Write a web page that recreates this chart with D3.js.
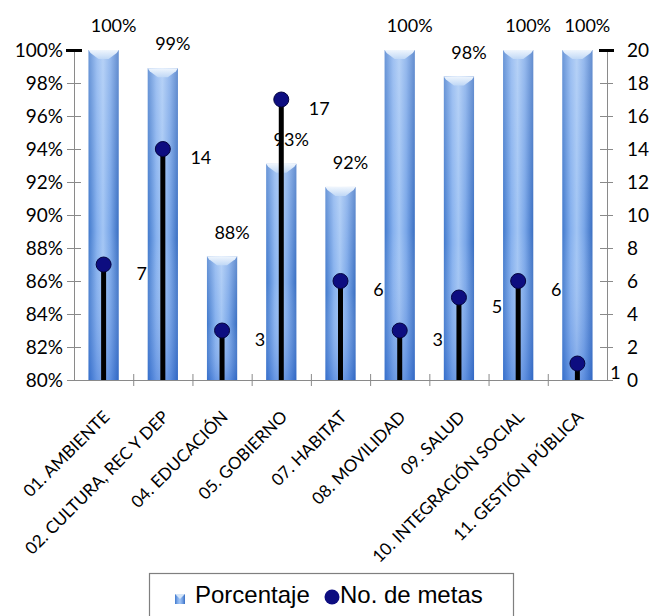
<!DOCTYPE html>
<html lang="es">
<head>
<meta charset="UTF-8">
<title>Porcentaje y No. de metas</title>
<script src="https://d3js.org/d3.v7.min.js"></script>
<style>
  body { margin: 0; background: #fff; }
  .tick text { font-family: Lato, sans-serif; font-size: 19px; fill: #000; }
  .lbl { font-family: Lato, sans-serif; font-size: 18px; fill: #000; }
  .cat { font-family: Lato, sans-serif; font-size: 17px; fill: #000; }
  .legend text { font-family: "Liberation Sans", Arial, sans-serif; font-size: 24px; fill: #000; }
</style>
</head>
<body>
<div id="chart"></div>
<script>
// data
const categories = ["01. AMBIENTE", "02. CULTURA, REC Y DEP", "04. EDUCACIÓN", "05. GOBIERNO",
  "07. HABITAT", "08. MOVILIDAD", "09. SALUD", "10. INTEGRACIÓN SOCIAL", "11. GESTIÓN PÚBLICA"];
const porcentaje = [100, 98.9, 87.5, 93.1, 91.7, 100, 98.4, 100, 100];
const metas = [7, 14, 3, 17, 6, 3, 5, 6, 1];
const leftTicks = [80, 82, 84, 86, 88, 90, 92, 94, 96, 98, 100];
const rightTicks = [0, 2, 4, 6, 8, 10, 12, 14, 16, 18, 20];

const W = 653, H = 616;
const plot = { left: 74, right: 607, top: 50, bottom: 380 };

const svg = d3.select("#chart").append("svg")
    .attr("width", W)
    .attr("height", H);

const defs = svg.append("defs");
// cylinder-ish horizontal shading
const hg = defs.append("linearGradient").attr("id", "barGrad")
    .attr("x1", "0").attr("x2", "1").attr("y1", "0").attr("y2", "0");
[["0%", "#4179cc"], ["28%", "#85b0ee"], ["48%", "#a2c5f4"], ["72%", "#79a6e8"], ["100%", "#3a6fc2"]]
  .forEach(s => hg.append("stop").attr("offset", s[0]).attr("stop-color", s[1]));
// lighter toward the top, deeper blue at the bottom
const vg = defs.append("linearGradient").attr("id", "barShade")
    .attr("x1", "0").attr("x2", "0").attr("y1", "0").attr("y2", "1");
vg.append("stop").attr("offset", "0%").attr("stop-color", "#ffffff").attr("stop-opacity", 0.22);
vg.append("stop").attr("offset", "55%").attr("stop-color", "#ffffff").attr("stop-opacity", 0);
vg.append("stop").attr("offset", "100%").attr("stop-color", "#1a55c8").attr("stop-opacity", 0.3);
const cg = defs.append("linearGradient").attr("id", "capGrad")
    .attr("x1", "0").attr("x2", "0").attr("y1", "0").attr("y2", "1");
cg.append("stop").attr("offset", "0%").attr("stop-color", "#f0f6fd");
cg.append("stop").attr("offset", "100%").attr("stop-color", "#c0d8f6");

// scales
const x = d3.scaleBand()
    .domain(categories)
    .range([plot.left, plot.right])
    .paddingInner(0.49)
    .paddingOuter(0.245);
const yLeft = d3.scaleLinear().domain([80, 100]).range([plot.bottom, plot.top]);
const yRight = d3.scaleLinear().domain([0, 20]).range([plot.bottom, plot.top]);
const xEdges = d3.scaleLinear().domain([0, categories.length]).range([plot.left, plot.right]);

// bars
const bars = svg.append("g").selectAll("g")
    .data(categories)
  .enter().append("g");

bars.append("rect")
    .attr("x", d => x(d))
    .attr("y", (d, i) => yLeft(porcentaje[i]))
    .attr("width", x.bandwidth())
    .attr("height", (d, i) => plot.bottom - yLeft(porcentaje[i]))
    .attr("fill", "url(#barGrad)");

bars.append("rect")
    .attr("x", d => x(d))
    .attr("y", (d, i) => yLeft(porcentaje[i]))
    .attr("width", x.bandwidth())
    .attr("height", (d, i) => plot.bottom - yLeft(porcentaje[i]))
    .attr("fill", "url(#barShade)");

// little bevelled top
bars.append("path")
    .attr("fill", "url(#capGrad)")
    .attr("d", (d, i) => {
      const x0 = x(d), x1 = x(d) + x.bandwidth(), t = yLeft(porcentaje[i]);
      const cx = x0 + x.bandwidth() / 2;
      return `M${x0},${t}L${x1},${t}L${x1 - 2},${t + 3}L${cx + 5},${t + 9}L${cx - 5},${t + 9}L${x0 + 2},${t + 3}Z`;
    });

// axes
const axL = svg.append("g")
    .attr("transform", `translate(${plot.left},0)`)
    .call(d3.axisLeft(yLeft).tickValues(leftTicks).tickFormat(d => d + "%")
      .tickSizeInner(7).tickSizeOuter(0).tickPadding(4));
axL.selectAll(".tick line").attr("x1", 7).attr("stroke", "#8a8a8a");
axL.select(".domain").attr("stroke", "#8a8a8a");
axL.selectAll(".tick").filter(d => d === 100).select("line")
    .attr("x1", 8).attr("x2", -8).attr("stroke", "#000").attr("stroke-width", 3);

const axR = svg.append("g")
    .attr("transform", `translate(${plot.right},0)`)
    .call(d3.axisRight(yRight).tickValues(rightTicks)
      .tickSizeInner(6).tickSizeOuter(0).tickPadding(14));
axR.selectAll(".tick line").attr("x1", -7).attr("stroke", "#8a8a8a");
axR.select(".domain").attr("stroke", "#8a8a8a");
axR.selectAll(".tick").filter(d => d === 20).select("line")
    .attr("x1", -8).attr("x2", 7).attr("stroke", "#000").attr("stroke-width", 3);

const axB = svg.append("g")
    .attr("transform", `translate(0,${plot.bottom})`)
    .call(d3.axisBottom(xEdges).tickValues(d3.range(1, categories.length))
      .tickFormat("").tickSizeInner(6).tickSizeOuter(0));
axB.selectAll(".tick line").attr("y1", -6).attr("stroke", "#8a8a8a");
axB.select(".domain").attr("stroke", "#8a8a8a");

// category labels
svg.append("g").selectAll("text")
    .data(categories)
  .enter().append("text")
    .attr("class", "cat")
    .attr("text-anchor", "end")
    .attr("transform", d => `translate(${x(d) + x.bandwidth() / 2 + 7},418) rotate(-45)`)
    .text(d => d);

// No. de metas: stems and dots
const cxOf = d => x(d) + x.bandwidth() / 2;

svg.append("g").selectAll("line")
    .data(categories)
  .enter().append("line")
    .attr("x1", cxOf).attr("x2", cxOf)
    .attr("y1", yRight(0))
    .attr("y2", (d, i) => yRight(metas[i]))
    .attr("stroke", "#000")
    .attr("stroke-width", 5);

svg.append("g").selectAll("circle")
    .data(categories)
  .enter().append("circle")
    .attr("cx", cxOf)
    .attr("cy", (d, i) => yRight(metas[i]))
    .attr("r", 7.5)
    .attr("fill", "#0d0d80")
    .attr("stroke", "#03033f")
    .attr("stroke-width", 1);

// value labels
svg.append("g").selectAll("text")
    .data(categories)
  .enter().append("text")
    .attr("class", "lbl")
    .attr("text-anchor", "middle")
    .attr("x", d => cxOf(d) + 10)
    .attr("y", (d, i) => yLeft(porcentaje[i]) - 24)
    .attr("dy", "0.35em")
    .text((d, i) => Math.round(porcentaje[i]) + "%");

svg.append("g").selectAll("text")
    .data(categories)
  .enter().append("text")
    .attr("class", "lbl")
    .attr("text-anchor", "middle")
    .attr("x", d => cxOf(d) + 38)
    .attr("y", (d, i) => yRight(metas[i]) + 9)
    .attr("dy", "0.35em")
    .text((d, i) => metas[i]);

// legend
const lg = svg.append("g").attr("class", "legend");
lg.append("rect")
    .attr("x", 149.5).attr("y", 573.5)
    .attr("width", 364).attr("height", 60)
    .attr("fill", "#fff")
    .attr("stroke", "#7f7f7f")
    .attr("stroke-width", 1.2);
lg.append("rect")
    .attr("x", 175).attr("y", 594)
    .attr("width", 10).attr("height", 10)
    .attr("fill", "url(#barGrad)");
lg.append("path")
    .attr("d", "M175,594L185,594L180,599Z")
    .attr("fill", "#d6e6f8");
lg.append("text").attr("x", 195).attr("y", 603).text("Porcentaje");
lg.append("circle")
    .attr("cx", 332).attr("cy", 597).attr("r", 7.5)
    .attr("fill", "#0d0d80");
lg.append("text").attr("x", 340).attr("y", 603).text("No. de metas");
</script>
</body>
</html>
